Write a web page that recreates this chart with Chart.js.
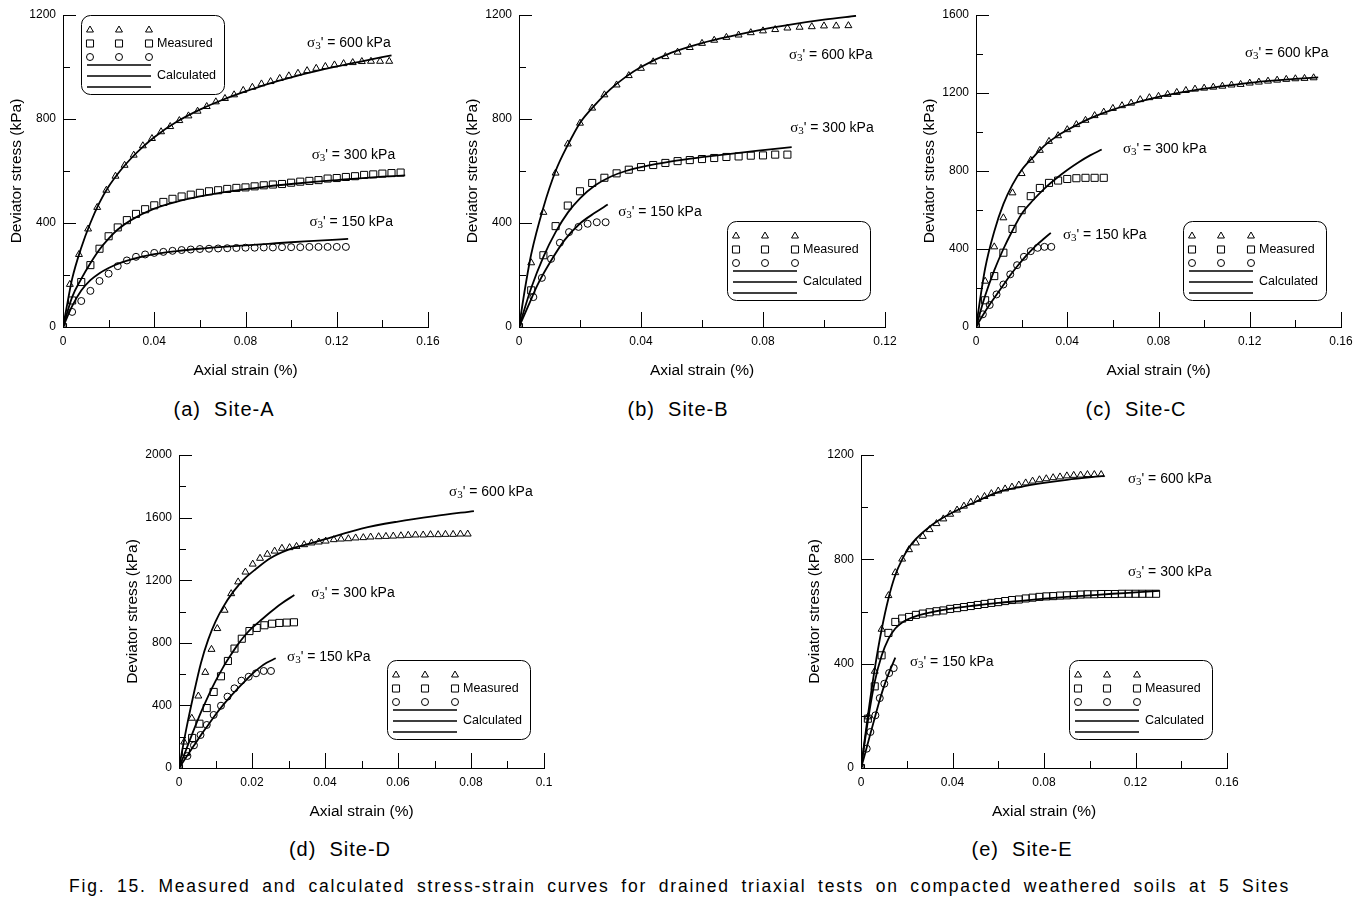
<!DOCTYPE html>
<html>
<head>
<meta charset="utf-8">
<script src="https://cdn.jsdelivr.net/npm/chart.js@4.4.1/dist/chart.umd.min.js"></script>
<style>
  body { margin: 0; background: #fff; width: 1372px; height: 904px; position: relative; overflow: hidden; font-family: "Liberation Sans", Arial, sans-serif; color: #000; }
  canvas { position: absolute; }
  .sub { position: absolute; width: 200px; text-align: center; font-size: 20px; letter-spacing: 1px; line-height: 24px; }
  .fig { position: absolute; left: 69px; top: 874px; width: 1221px; font-size: 17.5px; letter-spacing: 1.8px; line-height: 24px; text-align: justify; text-align-last: justify; white-space: nowrap; }
</style>
</head>
<body>
<canvas id="chartA" width="450" height="390" style="left:0;top:0"></canvas>
<canvas id="chartB" width="451" height="390" style="left:456px;top:0"></canvas>
<canvas id="chartC" width="450" height="390" style="left:913px;top:0"></canvas>
<canvas id="chartD" width="450" height="391" style="left:116px;top:440px"></canvas>
<canvas id="chartE" width="451" height="391" style="left:798px;top:440px"></canvas>

<div class="sub" style="left:124px;top:397px">(a)&nbsp; Site-A</div>
<div class="sub" style="left:578px;top:397px">(b)&nbsp; Site-B</div>
<div class="sub" style="left:1036px;top:397px">(c)&nbsp; Site-C</div>
<div class="sub" style="left:240px;top:837px">(d)&nbsp; Site-D</div>
<div class="sub" style="left:922px;top:837px">(e)&nbsp; Site-E</div>
<div class="fig">Fig. 15. Measured and calculated stress-strain curves for drained triaxial tests on compacted weathered soils at 5 Sites</div>

<script>
// ---- tick labels ----
const xTicks16 = [0, 0.04, 0.08, 0.12, 0.16]
const xTicks12 = [0, 0.04, 0.08, 0.12]
const xTicks10 = [0, 0.02, 0.04, 0.06, 0.08, 0.1]
const yTicks1200 = [0, 400, 800, 1200]
const yTicks1600 = [0, 400, 800, 1200, 1600]
const yTicks2000 = [0, 400, 800, 1200, 1600, 2000]

// ---- Site-A ----
const measA600 = [[0,0],[0.003,164],[0.007,279],[0.011,377],[0.015,460],[0.019,526],[0.023,580],[0.027,622],[0.031,661],[0.035,697],[0.039,725],[0.043,751],[0.047,771],[0.051,794],[0.055,812],[0.059,830],[0.063,848],[0.067,866],[0.071,879],[0.075,893],[0.079,910],[0.083,922],[0.087,935],[0.091,944],[0.095,956],[0.099,966],[0.103,976],[0.107,986],[0.111,995],[0.115,1002],[0.119,1008],[0.123,1013],[0.127,1017],[0.131,1021],[0.135,1022],[0.139,1022],[0.143,1022]]
const measA300 = [[0,0],[0.004,102],[0.008,173],[0.012,238],[0.016,301],[0.02,349],[0.024,383],[0.028,411],[0.032,435],[0.036,453],[0.04,468],[0.044,481],[0.048,493],[0.052,502],[0.056,509],[0.06,516],[0.064,522],[0.068,526],[0.072,531],[0.076,535],[0.08,537],[0.084,541],[0.088,545],[0.092,548],[0.096,550],[0.1,555],[0.104,559],[0.108,562],[0.112,565],[0.116,571],[0.12,573],[0.124,577],[0.128,580],[0.132,585],[0.136,587],[0.14,590],[0.144,592],[0.148,594]]
const measA150 = [[0,0],[0.004,58],[0.008,100],[0.012,139],[0.016,177],[0.02,205],[0.024,234],[0.028,256],[0.032,270],[0.036,279],[0.04,285],[0.044,289],[0.048,293],[0.052,296],[0.056,298],[0.06,300],[0.064,301],[0.068,302],[0.072,303],[0.076,304],[0.08,305],[0.084,305],[0.088,306],[0.092,306],[0.096,307],[0.1,307],[0.104,307],[0.108,308],[0.112,308],[0.116,308],[0.12,308],[0.124,308]]
const calcA600 = [[0,0],[0.002,95],[0.004,185],[0.008,305],[0.012,400],[0.016,478],[0.02,540],[0.025,600],[0.03,650],[0.035,693],[0.04,730],[0.05,790],[0.06,836],[0.07,874],[0.08,906],[0.09,935],[0.1,960],[0.11,982],[0.12,1002],[0.13,1020],[0.144,1045]]
const calcA300 = [[0,0],[0.004,115],[0.008,185],[0.012,245],[0.016,298],[0.02,340],[0.024,375],[0.03,412],[0.04,455],[0.05,482],[0.06,502],[0.07,518],[0.08,530],[0.09,541],[0.1,550],[0.11,558],[0.12,565],[0.13,572],[0.14,578],[0.15,583]]
const calcA150 = [[0,0],[0.004,80],[0.008,140],[0.012,180],[0.016,207],[0.02,227],[0.024,243],[0.03,260],[0.04,280],[0.05,292],[0.06,301],[0.07,308],[0.08,314],[0.09,320],[0.1,326],[0.11,331],[0.125,339]]

// ---- Site-B ----
const measB600 = [[0,0],[0.004,247],[0.008,441],[0.012,592],[0.016,704],[0.02,784],[0.024,842],[0.028,893],[0.032,931],[0.036,967],[0.04,995],[0.044,1020],[0.048,1040],[0.052,1057],[0.056,1075],[0.06,1091],[0.064,1103],[0.068,1114],[0.072,1123],[0.076,1132],[0.08,1139],[0.084,1144],[0.088,1150],[0.092,1153],[0.096,1155],[0.1,1158],[0.104,1158],[0.108,1159]]
const measB300 = [[0,0],[0.004,141],[0.008,276],[0.012,388],[0.016,467],[0.02,522],[0.024,554],[0.028,574],[0.032,591],[0.036,605],[0.04,615],[0.044,623],[0.048,631],[0.052,638],[0.056,642],[0.06,646],[0.064,650],[0.068,654],[0.072,656],[0.076,659],[0.08,660],[0.084,663],[0.088,663]]
const measB150 = [[0,0],[0.0047,115],[0.0075,189],[0.0105,262],[0.0134,324],[0.0164,365],[0.0195,385],[0.0225,397],[0.0255,403],[0.0284,403]]
const calcB600 = [[0,0],[0.002,150],[0.004,280],[0.008,460],[0.012,600],[0.016,700],[0.02,785],[0.025,855],[0.03,915],[0.035,962],[0.04,1000],[0.05,1055],[0.06,1092],[0.07,1120],[0.08,1145],[0.09,1165],[0.1,1182],[0.1105,1197]]
const calcB300 = [[0,0],[0.004,150],[0.008,270],[0.012,365],[0.016,440],[0.02,495],[0.025,545],[0.03,578],[0.035,600],[0.04,615],[0.05,637],[0.06,653],[0.07,667],[0.08,680],[0.0894,692]]
const calcB150 = [[0,0],[0.003,80],[0.006,160],[0.01,245],[0.015,335],[0.02,398],[0.025,440],[0.0291,471]]

// ---- Site-C ----
const measC600 = [[0,0],[0.004,235],[0.008,411],[0.012,560],[0.016,688],[0.02,787],[0.024,855],[0.028,906],[0.032,952],[0.036,981],[0.04,1012],[0.044,1038],[0.048,1060],[0.052,1084],[0.056,1102],[0.06,1121],[0.064,1135],[0.068,1148],[0.072,1166],[0.076,1176],[0.08,1183],[0.084,1193],[0.088,1203],[0.092,1213],[0.096,1220],[0.1,1225],[0.104,1230],[0.108,1235],[0.112,1241],[0.116,1244],[0.12,1251],[0.124,1256],[0.128,1261],[0.132,1266],[0.136,1270],[0.14,1273],[0.144,1275],[0.148,1278]]
const measC300 = [[0,0],[0.004,137],[0.008,261],[0.012,381],[0.016,503],[0.02,599],[0.024,671],[0.028,713],[0.032,739],[0.036,751],[0.04,759],[0.044,763],[0.048,765],[0.052,765],[0.056,765]]
const measC150 = [[0,0],[0.003,65],[0.006,113],[0.009,167],[0.012,218],[0.015,270],[0.018,317],[0.021,360],[0.024,389],[0.027,406],[0.03,411],[0.033,411]]
const calcC600 = [[0,0],[0.004,300],[0.008,490],[0.012,630],[0.016,730],[0.02,805],[0.025,870],[0.03,930],[0.035,975],[0.04,1010],[0.05,1070],[0.06,1115],[0.07,1150],[0.08,1180],[0.09,1203],[0.1,1222],[0.11,1238],[0.12,1252],[0.13,1263],[0.14,1272],[0.15,1280]]
const calcC300 = [[0,0],[0.004,160],[0.008,290],[0.012,400],[0.016,495],[0.02,580],[0.025,650],[0.03,710],[0.035,760],[0.04,805],[0.045,845],[0.05,880],[0.0551,910]]
const calcC150 = [[0,0],[0.003,60],[0.006,115],[0.009,165],[0.012,215],[0.015,265],[0.018,310],[0.021,352],[0.024,390],[0.027,425],[0.03,455],[0.0328,483]]

// ---- Site-D ----
const measD600 = [[0,0],[0.0014,166],[0.0035,318],[0.0053,460],[0.0072,611],[0.0089,758],[0.0105,891],[0.0125,1008],[0.0143,1114],[0.0162,1189],[0.0182,1252],[0.0202,1303],[0.0222,1340],[0.0242,1366],[0.0262,1386],[0.0282,1404],[0.0303,1408],[0.0322,1416],[0.0343,1427],[0.0363,1438],[0.0383,1444],[0.0402,1450],[0.0424,1459],[0.0444,1463],[0.0464,1465],[0.0484,1470],[0.0505,1472],[0.0525,1476],[0.0547,1478],[0.0567,1480],[0.0587,1482],[0.0608,1484],[0.0628,1487],[0.0648,1489],[0.0669,1489],[0.0689,1491],[0.071,1491],[0.073,1493],[0.0751,1493],[0.0771,1495],[0.0791,1495]]
const measD300 = [[0,0],[0.0019,102],[0.0036,192],[0.0056,283],[0.0076,383],[0.0095,486],[0.0115,586],[0.0134,684],[0.0152,763],[0.0172,826],[0.0193,875],[0.0213,895],[0.0234,912],[0.0255,922],[0.0275,927],[0.0295,929],[0.0315,931]]
const measD150 = [[0,0],[0.0023,77],[0.0041,145],[0.0059,211],[0.0076,275],[0.0095,339],[0.0115,398],[0.0133,456],[0.0152,509],[0.0171,558],[0.0191,583],[0.0211,605],[0.0232,620],[0.0252,620]]
const calcD600 = [[0,0],[0.002,250],[0.004,470],[0.006,670],[0.008,820],[0.01,935],[0.012,1025],[0.015,1130],[0.018,1210],[0.021,1270],[0.025,1340],[0.03,1395],[0.034,1422],[0.04,1462],[0.05,1530],[0.06,1575],[0.07,1610],[0.0808,1642]]
const calcD300 = [[0,0],[0.002,120],[0.004,240],[0.006,355],[0.008,460],[0.01,555],[0.012,640],[0.014,715],[0.016,785],[0.018,845],[0.02,895],[0.022,935],[0.025,995],[0.028,1050],[0.0316,1105]]
const calcD150 = [[0,0],[0.002,70],[0.004,140],[0.006,210],[0.008,275],[0.01,340],[0.012,400],[0.014,455],[0.016,505],[0.018,553],[0.02,600],[0.022,640],[0.024,672],[0.0265,701]]

// ---- Site-E ----
const measE600 = [[0,0],[0.003,196],[0.006,371],[0.009,532],[0.012,661],[0.015,749],[0.018,801],[0.021,837],[0.024,863],[0.027,888],[0.03,914],[0.033,937],[0.036,955],[0.039,973],[0.042,989],[0.045,1004],[0.048,1019],[0.051,1030],[0.054,1041],[0.057,1052],[0.06,1062],[0.063,1070],[0.066,1077],[0.069,1085],[0.072,1093],[0.075,1100],[0.078,1105],[0.081,1109],[0.084,1113],[0.087,1116],[0.09,1120],[0.093,1122],[0.096,1123],[0.099,1125],[0.102,1125],[0.105,1125]]
const measE300 = [[0,0],[0.003,189],[0.006,313],[0.009,432],[0.012,518],[0.015,560],[0.018,573],[0.021,579],[0.024,587],[0.027,592],[0.03,597],[0.033,601],[0.036,604],[0.039,610],[0.042,613],[0.045,617],[0.048,621],[0.051,625],[0.054,629],[0.057,633],[0.06,636],[0.063,640],[0.066,644],[0.069,646],[0.072,650],[0.075,653],[0.078,656],[0.081,658],[0.084,659],[0.087,661],[0.09,662],[0.093,663],[0.096,665],[0.099,666],[0.102,666],[0.105,667],[0.108,667],[0.111,667],[0.114,668],[0.117,668],[0.12,668],[0.123,668],[0.126,668],[0.129,668]]
const measE150 = [[0,0],[0.0025,74],[0.0041,138],[0.0063,202],[0.0082,268],[0.0102,323],[0.0123,364],[0.0143,383]]
const calcE600 = [[0,0],[0.003,200],[0.006,380],[0.009,530],[0.012,650],[0.015,740],[0.018,800],[0.021,845],[0.024,878],[0.03,925],[0.036,960],[0.042,988],[0.05,1020],[0.06,1058],[0.07,1078],[0.08,1093],[0.09,1105],[0.1063,1120]]
const calcE300 = [[0,0],[0.003,180],[0.006,330],[0.009,430],[0.012,495],[0.015,535],[0.018,558],[0.021,572],[0.025,585],[0.03,596],[0.04,612],[0.05,623],[0.06,633],[0.07,641],[0.08,649],[0.09,656],[0.1,662],[0.11,668],[0.12,673],[0.1305,679]]
const calcE150 = [[0,0],[0.002,62],[0.004,128],[0.006,192],[0.008,255],[0.01,312],[0.012,360],[0.015,423]]

const FONT = '"Liberation Sans", Arial, sans-serif'
const SERIF = '"Liberation Serif", "Times New Roman", serif'

const isMajor = (v, majors) => majors.some(m => Math.abs(m - v) < 1e-9)

// tick marks: x ticks point up, y ticks point right, major longer
const tickMarks = {
    id : 'tickMarks',
    afterDraw(chart) {
        const { ctx, chartArea : a, scales : { x, y } } = chart
        ctx.save()
        ctx.strokeStyle = '#000'
        ctx.lineWidth = 1
        ctx.beginPath()
        x.ticks.forEach(t => {
            if (t.value === 0) return
            const px = Math.round(x.getPixelForValue(t.value)) + 0.5
            const len = t.label !== '' ? 15 : 7
            ctx.moveTo(px, a.bottom)
            ctx.lineTo(px, a.bottom - len)
        })
        y.ticks.forEach(t => {
            if (t.value === 0) return
            const py = Math.round(y.getPixelForValue(t.value)) + 0.5
            const len = t.label !== '' ? 13 : 7
            ctx.moveTo(a.left, py)
            ctx.lineTo(a.left + len, py)
        })
        ctx.stroke()
        ctx.restore()
    }
}

const drawSigma = (ctx, x, y, p) => {
    ctx.fillStyle = '#000'
    ctx.textAlign = 'left'
    ctx.textBaseline = 'middle'
    ctx.font = `15px ${SERIF}`
    ctx.fillText('σ', x, y)
    let w = ctx.measureText('σ').width
    ctx.font = `11px ${SERIF}`
    ctx.fillText('3', x + w, y + 3)
    w += ctx.measureText('3').width
    ctx.font = `14px ${FONT}`
    ctx.fillText(`' = ${p} kPa`, x + w, y)
}

const drawLegend = (ctx, bx, by) => {
    ctx.save()
    ctx.strokeStyle = '#000'
    ctx.lineWidth = 1
    ctx.fillStyle = '#fff'
    ctx.beginPath()
    ctx.roundRect(bx + 0.5, by + 0.5, 143, 79, 9)
    ctx.fill()
    ctx.stroke()
    const styles = [['triangle', 4], ['rect', 5], ['circle', 3.5]]
    ctx.fillStyle = 'rgba(0,0,0,0)'
    styles.forEach(([style, r], i) => {
        [9, 38, 68].forEach(dx => {
            Chart.helpers.drawPoint(ctx, { pointStyle : style, radius : r, borderWidth : 1, rotation : 0 }, bx + dx, by + 15 + i * 13.5)
        })
    })
    ctx.lineWidth = 1.6
    ctx.beginPath();
    [50, 61, 72].forEach(dy => {
        ctx.moveTo(bx + 6, by + dy)
        ctx.lineTo(bx + 70, by + dy)
    })
    ctx.stroke()
    ctx.fillStyle = '#000'
    ctx.font = `12.5px ${FONT}`
    ctx.textAlign = 'left'
    ctx.textBaseline = 'middle'
    ctx.fillText('Measured', bx + 76, by + 29)
    ctx.fillText('Calculated', bx + 76, by + 61)
    ctx.restore()
}

const makeChart = (id, cfg) => {
    const measured = (data, style, r) => ({
        data, showLine : false, pointStyle : style, pointRadius : r, pointHoverRadius : r,
        pointBorderWidth : 1, borderColor : '#000', backgroundColor : 'rgba(0,0,0,0)'
    })
    const calculated = data => ({
        data, showLine : true, pointRadius : 0, borderColor : '#000', borderWidth : 1.8,
        cubicInterpolationMode : 'monotone', fill : false
    })
    const notes = {
        id : 'notes',
        afterDraw(chart) {
            const { ctx, chartArea : a, scales : { x, y } } = chart
            ctx.save()
            cfg.labels.forEach(([lx, ly, p]) => drawSigma(ctx, x.getPixelForValue(lx), y.getPixelForValue(ly), p))
            drawLegend(ctx, a.left + cfg.legend[0], a.top + cfg.legend[1])
            ctx.restore()
        }
    }
    return new Chart(document.getElementById(id), {
        type : 'scatter',
        data : {
            datasets : [
                measured(cfg.m600, 'triangle', 4),
                measured(cfg.m300, 'rect', 5),
                measured(cfg.m150, 'circle', 3.5),
                calculated(cfg.c600),
                calculated(cfg.c300),
                calculated(cfg.c150)
            ]
        },
        options : {
            responsive : false,
            animation : false,
            layout : { padding : { top : 15, right : 22, left : 0, bottom : 0 } },
            plugins : { legend : { display : false }, tooltip : { enabled : false } },
            scales : {
                x : {
                    type : 'linear', min : 0, max : cfg.xMax,
                    afterFit : s => { s.height = 63 },
                    grid : { display : false, drawTicks : false },
                    border : { display : true, color : '#000', width : 1 },
                    ticks : {
                        stepSize : cfg.xStep, autoSkip : false, maxRotation : 0, padding : 7,
                        color : '#000', font : { size : 12, family : FONT },
                        callback : v => isMajor(v, cfg.xTicks) ? String(+v.toFixed(3)) : ''
                    },
                    title : { display : true, text : 'Axial strain (%)', color : '#000', font : { size : 15.5, family : FONT }, padding : { top : 0, bottom : 10 } }
                },
                y : {
                    type : 'linear', min : 0, max : cfg.yMax,
                    afterFit : s => { s.width = 63 },
                    grid : { display : false, drawTicks : false },
                    border : { display : true, color : '#000', width : 1 },
                    ticks : {
                        stepSize : 200, autoSkip : false, padding : 7,
                        color : '#000', font : { size : 12, family : FONT },
                        callback : v => isMajor(v, cfg.yTicks) ? String(v) : ''
                    },
                    title : { display : true, text : 'Deviator stress (kPa)', color : '#000', font : { size : 15.5, family : FONT }, padding : { top : 7, bottom : 0 } }
                }
            }
        },
        plugins : [tickMarks, notes]
    })
}

makeChart('chartA', {
    m600 : measA600, m300 : measA300, m150 : measA150, c600 : calcA600, c300 : calcA300, c150 : calcA150,
    xMax : 0.16, xStep : 0.02, xTicks : xTicks16, yMax : 1200, yTicks : yTicks1200,
    labels : [[0.107, 1092, 600], [0.109, 662, 300], [0.108, 404, 150]], legend : [18, 0]
})
makeChart('chartB', {
    m600 : measB600, m300 : measB300, m150 : measB150, c600 : calcB600, c300 : calcB300, c150 : calcB150,
    xMax : 0.12, xStep : 0.02, xTicks : xTicks12, yMax : 1200, yTicks : yTicks1200,
    labels : [[0.0885, 1046, 600], [0.0889, 765, 300], [0.0325, 442, 150]], legend : [208, 206]
})
makeChart('chartC', {
    m600 : measC600, m300 : measC300, m150 : measC150, c600 : calcC600, c300 : calcC300, c150 : calcC150,
    xMax : 0.16, xStep : 0.02, xTicks : xTicks16, yMax : 1600, yTicks : yTicks1600,
    labels : [[0.1179, 1405, 600], [0.0644, 913, 300], [0.0381, 472, 150]], legend : [207, 206]
})
makeChart('chartD', {
    m600 : measD600, m300 : measD300, m150 : measD150, c600 : calcD600, c300 : calcD300, c150 : calcD150,
    xMax : 0.1, xStep : 0.01, xTicks : xTicks10, yMax : 2000, yTicks : yTicks2000,
    labels : [[0.074, 1764, 600], [0.0362, 1118, 300], [0.0296, 709, 150]], legend : [208, 205]
})
makeChart('chartE', {
    m600 : measE600, m300 : measE300, m150 : measE150, c600 : calcE600, c300 : calcE300, c150 : calcE150,
    xMax : 0.16, xStep : 0.02, xTicks : xTicks16, yMax : 1200, yTicks : yTicks1200,
    labels : [[0.1167, 1108, 600], [0.1167, 751, 300], [0.0214, 406, 150]], legend : [208, 205]
})
</script>
</body>
</html>
